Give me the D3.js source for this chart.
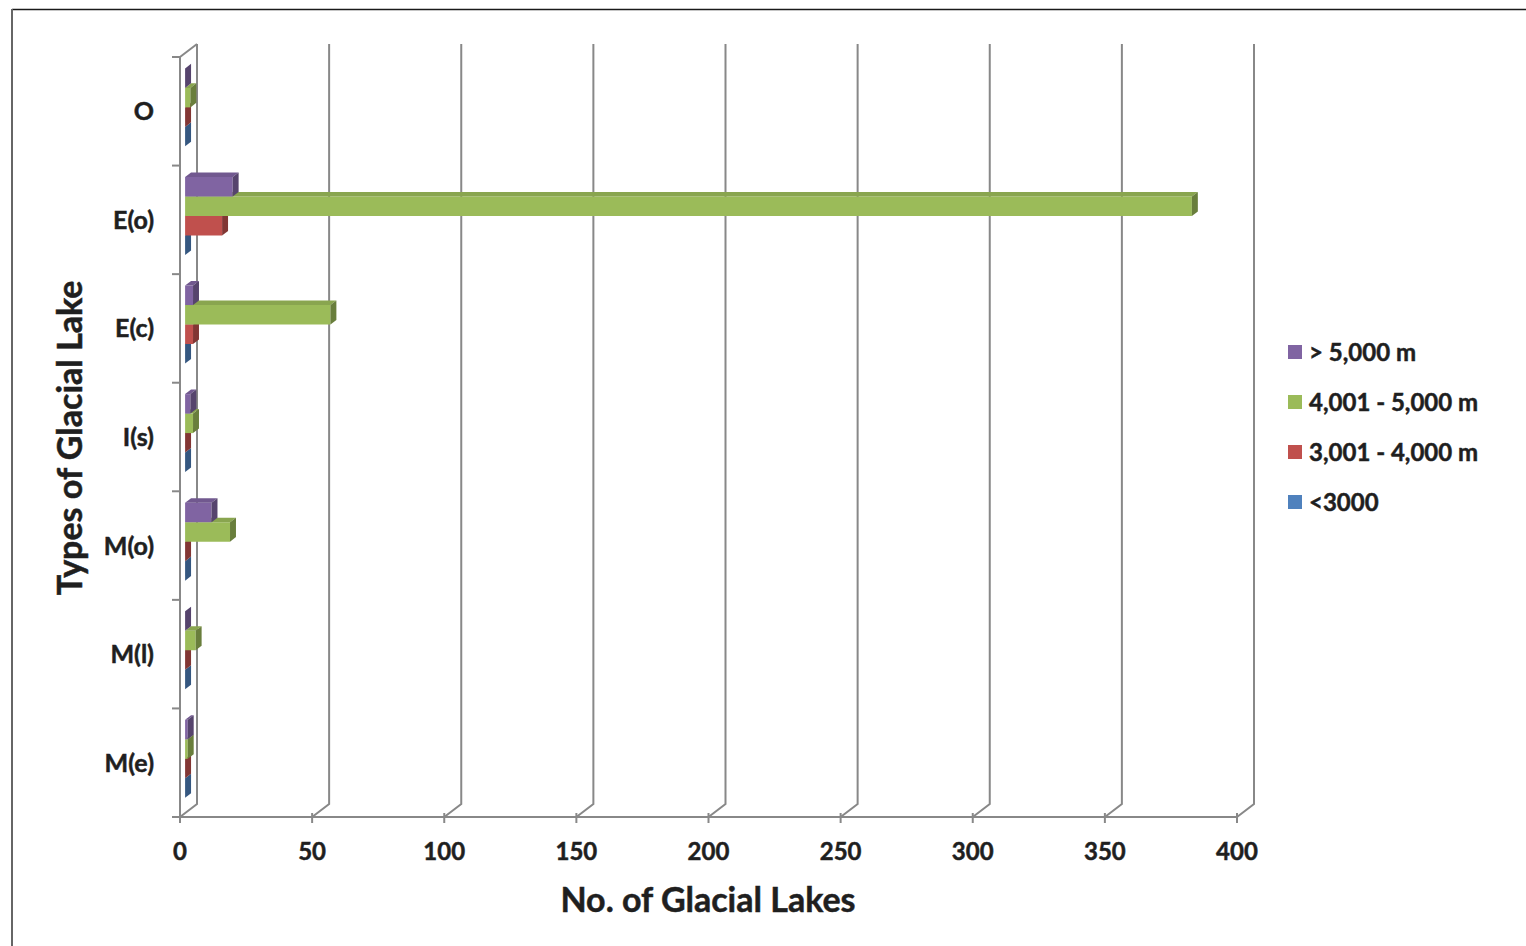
<!DOCTYPE html>
<html>
<head>
<meta charset="utf-8">
<script src="https://cdn.jsdelivr.net/npm/d3@7"></script>
<style>
  html, body { margin: 0; padding: 0; background: #fff; }
  svg { display: block; }
  text { font-family: Lato, "Open Sans", sans-serif; font-weight: bold; fill: #1f1f1f; stroke: #1f1f1f; stroke-width: 0.5px; }
</style>
</head>
<body>
<svg id="chart" width="1526" height="946"></svg>
<script>
// ---- data ----
const categories = ["O", "E(o)", "E(c)", "I(s)", "M(o)", "M(l)", "M(e)"];
const seriesNames = ["> 5,000 m", "4,001 - 5,000 m", "3,001 - 4,000 m", "<3000"];
const above5000   = [0, 18, 3, 2, 10, 0, 1];
const from4001    = [2, 381, 55, 3, 17, 4, 1];
const from3001    = [0, 14, 3, 0, 0, 0, 0];
const below3000   = [0, 0, 0, 0, 0, 0, 0];
const xTicks = [0, 50, 100, 150, 200, 250, 300, 350, 400];
const seriesColors = ["#8064A2", "#9BBB59", "#C0504D", "#4F81BD"];
const seriesValues = [above5000, from4001, from3001, below3000];

(function () {
// ---- layout ----
const svg = d3.select("#chart");
const pLeft = 180, pRight = 1237, pTop = 57, pBottom = 817;
const depth = [17, -13];           // offset of back wall
const d0 = 0.3, d1 = 0.65;          // bar depth range
const P = (x, y, d) => [x + depth[0] * d, y + depth[1] * d];

const x = d3.scaleLinear().domain([0, 400]).range([pLeft, pRight]);
const y0 = d3.scaleBand().domain(categories).range([pTop, pBottom]).padding(0);
const y1 = d3.scaleBand().domain(seriesNames).range([0, y0.bandwidth()]).paddingInner(0).paddingOuter(0.785);

const gridColor = "#888";

// chart border (top + left visible)
svg.append("line").attr("x1", 12).attr("x2", 1526).attr("y1", 9.5).attr("y2", 9.5)
  .attr("stroke", "#1a1a1a").attr("stroke-width", 1.6);
svg.append("line").attr("x1", 12).attr("x2", 12).attr("y1", 9).attr("y2", 946)
  .attr("stroke", "#666").attr("stroke-width", 2);

// back wall gridlines + floor diagonals
const grid = svg.append("g").attr("stroke", gridColor).attr("stroke-width", 2).attr("fill", "none");
xTicks.forEach(t => {
  const bTop = P(x(t), pTop, 1), bBot = P(x(t), pBottom, 1), fBot = P(x(t), pBottom, 0);
  grid.append("path").attr("d", d3.line()([bTop, bBot, fBot]));
});
grid.append("path").attr("d", d3.line()([P(pLeft, pTop, 0), P(pLeft, pTop, 1)]));

// front axes
const ax = svg.append("g").attr("stroke", gridColor).attr("stroke-width", 2).attr("fill", "none");
ax.append("line").attr("x1", pLeft).attr("x2", pLeft).attr("y1", pTop).attr("y2", pBottom + 6);
ax.append("line").attr("x1", pLeft - 8).attr("x2", pRight).attr("y1", pBottom).attr("y2", pBottom);
const catBounds = categories.map(c => y0(c)).concat([pBottom]);
catBounds.forEach(b => {
  ax.append("line").attr("x1", pLeft - 8).attr("x2", pLeft).attr("y1", b).attr("y2", b);
});
xTicks.forEach(t => {
  ax.append("line").attr("x1", x(t)).attr("x2", x(t)).attr("y1", pBottom - 4).attr("y2", pBottom + 6);
});

// bars (draw bottom-up so upper bars cover lower ones)
const bars = svg.append("g");
for (let ci = categories.length - 1; ci >= 0; ci--) {
  for (let si = seriesNames.length - 1; si >= 0; si--) {
    const v = seriesValues[si][ci];
    const yt = y0(categories[ci]) + y1(seriesNames[si]);
    const yb = yt + y1.bandwidth();
    const xa = x(0), xb = x(v);
    const base = d3.color(seriesColors[si]);
    const front = [P(xa, yt, d0), P(xb, yt, d0), P(xb, yb, d0), P(xa, yb, d0)];
    const topF = [P(xa, yt, d0), P(xb, yt, d0), P(xb, yt, d1), P(xa, yt, d1)];
    const side = [P(xb, yt, d0), P(xb, yt, d1), P(xb, yb, d1), P(xb, yb, d0)];
    bars.append("polygon").attr("points", front.join(" ")).attr("fill", base.formatHex());
    bars.append("polygon").attr("points", topF.join(" ")).attr("fill", base.darker(0.35).formatHex());
    bars.append("polygon").attr("points", side.join(" ")).attr("fill", base.darker(1.1).formatHex());
  }
}

// tick labels
svg.append("g").selectAll("text").data(xTicks).join("text")
  .attr("x", d => x(d)).attr("y", 860).attr("text-anchor", "middle")
  .attr("font-size", 24).text(d => d);

svg.append("g").selectAll("text").data(categories).join("text")
  .attr("x", 154).attr("y", d => y0(d) + y0.bandwidth() / 2 + 9).attr("text-anchor", "end")
  .attr("font-size", 25).text(d => d);

// axis titles
svg.append("text").attr("x", 708).attr("y", 912).attr("text-anchor", "middle")
  .attr("font-size", 34).text("No. of Glacial Lakes");
svg.append("text").attr("transform", "translate(82,438) rotate(-90)").attr("text-anchor", "middle")
  .attr("font-size", 34).text("Types of Glacial Lake");

// legend
const lg = svg.append("g");
seriesNames.forEach((s, i) => {
  const cy = 352 + i * 50;
  lg.append("rect").attr("x", 1288).attr("y", cy - 7).attr("width", 14).attr("height", 14)
    .attr("fill", seriesColors[i]);
  lg.append("text").attr("x", 1309).attr("y", cy + 8.5).attr("font-size", 24).text(s);
});
})();
</script>
</body>
</html>
